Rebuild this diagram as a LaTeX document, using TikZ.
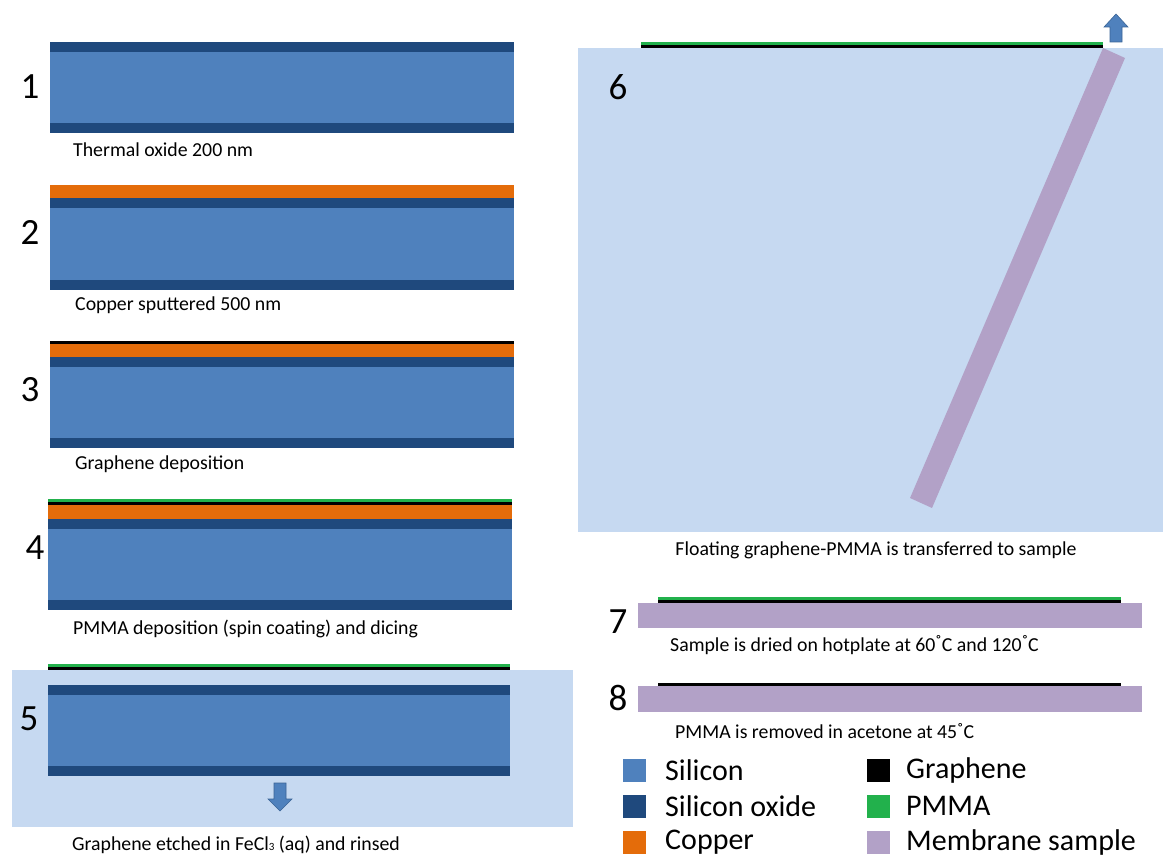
\documentclass[tikz,border=0pt]{standalone}
\usepackage{fontspec}
\setmainfont{Carlito}
\definecolor{si}{HTML}{4F81BD}
\definecolor{ox}{HTML}{1F497D}
\definecolor{cu}{HTML}{E46C0A}
\definecolor{pm}{HTML}{22B14C}
\definecolor{mem}{HTML}{B2A1C7}
\definecolor{bath}{HTML}{C6D9F1}
\definecolor{arrowedge}{HTML}{3A6496}
\newcommand\degr{\raisebox{0.15ex}{\char"02DA}}
\tikzset{
  captext/.style={anchor=west, inner sep=0pt, font=\fontsize{19.8}{23}\selectfont},
  numtext/.style={anchor=center, inner sep=0pt, font=\fontsize{37}{40}\selectfont},
  legtext/.style={anchor=west, inner sep=0pt, font=\fontsize{30}{34}\selectfont},
  legbox/.style={minimum width=24pt, minimum height=24pt, inner sep=0pt, draw=white, line width=0.6pt},
  blockarrow/.style={fill=si, draw=arrowedge, line width=0.6pt}
}
\begin{document}
\begin{tikzpicture}[x=1pt,y=-1pt]
\useasboundingbox (0,0) rectangle (1163,856);
% ---------- panel 1
\fill[ox] (50,42) rectangle (514,52);
\fill[si] (50,52) rectangle (514,123);
\fill[ox] (50,123) rectangle (514,133);
\node[numtext] (n1) at (30,87) {1};
\node[captext] (c1) at (73,150) {Thermal oxide 200 nm};
% ---------- panel 2
\fill[cu] (50,185) rectangle (514,198);
\fill[ox] (50,198) rectangle (514,208);
\fill[si] (50,208) rectangle (514,280);
\fill[ox] (50,280) rectangle (514,290);
\node[numtext] (n2) at (30,232) {2};
\node[captext] (c2) at (75,305) {Copper sputtered 500 nm};
% ---------- panel 3
\fill[black] (50,340.5) rectangle (514,343.5);
\fill[cu] (50,343.5) rectangle (514,357);
\fill[ox] (50,357) rectangle (514,367);
\fill[si] (50,367) rectangle (514,438);
\fill[ox] (50,438) rectangle (514,448);
\node[numtext] (n3) at (30,390) {3};
\node[captext] (c3) at (75,464) {Graphene deposition};
% ---------- panel 4
\fill[pm] (48,499) rectangle (512,502);
\fill[black] (48,502) rectangle (512,505);
\fill[cu] (48,505) rectangle (512,519);
\fill[ox] (48,519) rectangle (512,529);
\fill[si] (48,529) rectangle (512,600);
\fill[ox] (48,600) rectangle (512,610);
\node[numtext] (n4) at (35,548) {4};
\node[captext] (c4) at (73,629) {PMMA deposition (spin coating) and dicing};
% ---------- panel 5
\fill[bath] (12,670) rectangle (573,827);
\fill[pm] (48,664) rectangle (510,667);
\fill[black] (48,667) rectangle (510,670);
\fill[ox] (48,685) rectangle (510,695);
\fill[si] (48,695) rectangle (510,766);
\fill[ox] (48,766) rectangle (510,776);
\node[numtext] (n5) at (29,719) {5};
\draw[blockarrow] (274,783) -- (286,783) -- (286,799) -- (292,799) -- (280,811) -- (268,799) -- (274,799) -- cycle;
\node[captext] (c5) at (72,845) {Graphene etched in FeCl{\fontsize{11}{11}\selectfont 3} (aq) and rinsed};
% ---------- panel 6
\fill[bath] (578,48) rectangle (1163,532);
\fill[pm] (641,42) rectangle (1103,45);
\fill[black] (641,45) rectangle (1103,48.5);
\fill[mem] (1103,48) -- (1125,58) -- (932,508) -- (910,498) -- cycle;
\draw[blockarrow] (1110,42) -- (1122,42) -- (1122,27) -- (1128,27) -- (1116,14) -- (1104,27) -- (1110,27) -- cycle;
\node[numtext] (n6) at (618,87) {6};
\node[captext, anchor=center] (c6) at (876,550) {Floating graphene-PMMA is transferred to sample};
% ---------- panel 7
\fill[pm] (658,597) rectangle (1121,600);
\fill[black] (658,600) rectangle (1121,602.5);
\fill[mem] (638,602.5) rectangle (1142,628);
\node[numtext] (n7) at (618,622) {7};
\node[captext] (c7) at (670,645) {Sample is dried on hotplate at 60\degr C and 120\degr C};
% ---------- panel 8
\fill[black] (658,683) rectangle (1121,686);
\fill[mem] (638,686) rectangle (1142,712);
\node[numtext] (n8) at (618,698) {8};
\node[captext] (c8) at (675,731) {PMMA is removed in acetone at 45\degr C};
% ---------- legend
\node[legbox, fill=si] (ls) at (634,770) {};
\node[legtext] (lst) at (665,770) {Silicon};
\node[legbox, fill=ox] (lo) at (634,806) {};
\node[legtext] (lot) at (665,806) {Silicon oxide};
\node[legbox, fill=cu] (lc) at (634,842) {};
\node[legtext] (lct) at (665,842) {Copper};
\node[legbox, fill=black] (lg) at (878,770) {};
\node[legtext] (lgt) at (906,770) {Graphene};
\node[legbox, fill=pm] (lp) at (878,806) {};
\node[legtext] (lpt) at (906,806) {PMMA};
\node[legbox, fill=mem] (lm) at (878,842) {};
\node[legtext] (lmt) at (906,842) {Membrane sample};
\end{tikzpicture}
\end{document}
